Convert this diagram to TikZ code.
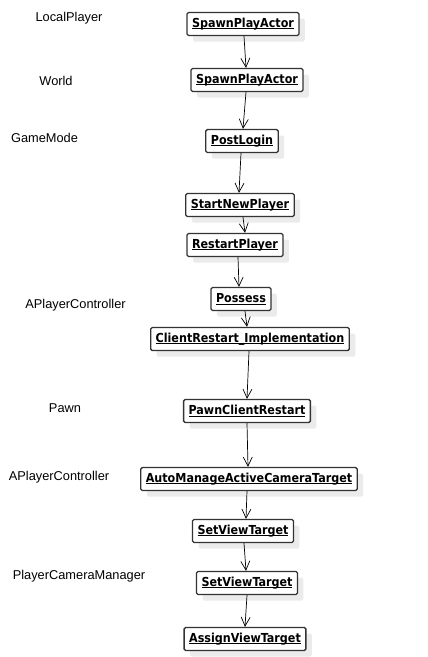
\documentclass[tikz,border=0pt]{standalone}
\usepackage{fontspec}
\setmainfont{Liberation Sans}
\newfontfamily\callfont{DejaVu Sans Condensed}
\newsavebox\namebox
\newcommand\callname[1]{\sbox\namebox{#1}\rlap{\rule[-1.6pt]{\wd\namebox}{.8pt}}\usebox\namebox}
\usetikzlibrary{arrows.meta,shadows}
\begin{document}
\begin{tikzpicture}[x=1pt,y=-1pt,
call/.style={draw=black!80,line width=1.3pt,rounded corners=1.5pt,fill=white,inner xsep=5pt,inner ysep=2pt,minimum height=23pt,font={\callfont\bfseries\fontsize{12.4}{14}\selectfont},drop shadow={fill=black!8,opacity=1,shadow xshift=6pt,shadow yshift=-6pt}},
owner/.style={font={\fontsize{12.8}{15}\selectfont}},
msg/.style={-{Straight Barb[length=9pt,width=9pt]},line width=.7pt}]
\useasboundingbox(0,0)rectangle(428,657);
\node[owner](localplayer)at(69,18){LocalPlayer};
\node[owner](world)at(56,81){World};
\node[owner](gamemode)at(44.5,138){GameMode};
\node[owner](pcA)at(75.5,305){APlayerController};
\node[owner](pawn)at(65,408){Pawn};
\node[owner](pcB)at(59,477){APlayerController};
\node[owner](camman)at(79,576){PlayerCameraManager};
\node[call](spawnLP)at(243,24){\callname{SpawnPlayActor}};
\node[call](spawnW)at(247,80){\callname{SpawnPlayActor}};
\node[call](postlogin)at(242,141){\callname{PostLogin}};
\node[call](startnew)at(240,205){\callname{StartNewPlayer}};
\node[call](restart)at(235,245){\callname{RestartPlayer}};
\node[call](possess)at(241,299){\callname{Possess}};
\node[call](clientrestart)at(250,339){\callname{ClientRestart\_Implementation}};
\node[call](pawnrestart)at(247,411){\callname{PawnClientRestart}};
\node[call](automanage)at(249,479){\callname{AutoManageActiveCameraTarget}};
\node[call](setviewPC)at(243,531){\callname{SetViewTarget}};
\node[call](setviewCM)at(247,583){\callname{SetViewTarget}};
\node[call](assignview)at(245,639){\callname{AssignViewTarget}};
\draw[msg]([xshift=1]spawnLP.south)--([xshift=-1]spawnW.north);
\draw[msg]([xshift=-1]spawnW.south)--([xshift=1]postlogin.north);
\draw[msg]([xshift=-1]postlogin.south)--([xshift=-1]startnew.north);
\draw[msg]([xshift=3]startnew.south)--([xshift=10]restart.north);
\draw[msg]([xshift=3]restart.south)--([xshift=-2]possess.north);
\draw[msg]([xshift=4]possess.south)--([xshift=-3]clientrestart.north);
\draw[msg]([xshift=-1]clientrestart.south)--(pawnrestart.north);
\draw[msg](pawnrestart.south)--([xshift=-1]automanage.north);
\draw[msg]([xshift=-2]automanage.south)--([xshift=3]setviewPC.north);
\draw[msg]([xshift=1]setviewPC.south)--([xshift=-1]setviewCM.north);
\draw[msg](setviewCM.south)--(assignview.north);
\end{tikzpicture}
\end{document}
